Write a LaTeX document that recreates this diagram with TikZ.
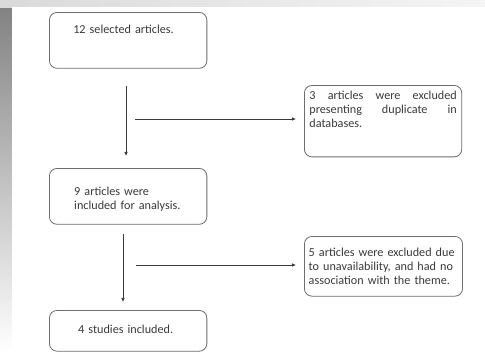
\documentclass[tikz,border=0pt]{standalone}
\usepackage{fontspec}
\setmainfont{Carlito}
\usepackage{tikz}
\usetikzlibrary{positioning, arrows.meta}
\usepackage{xcolor}
\definecolor{frame}{HTML}{6E6E6E}
\definecolor{ink}{HTML}{3A3A3A}
\definecolor{shade}{HTML}{DADADA}

\tikzset{
  stage/.style={draw=frame, line width=0.7pt, rounded corners=6.5pt, anchor=north west,
    font=\fontsize{10.4}{12}\selectfont, text=ink, inner ysep=0pt},
  flow/.style={draw=ink, line width=0.7pt, -{Latex[length=3.5pt, width=3.2pt]}}
}

\begin{document}
\begin{tikzpicture}[x=0.3mm, y=-0.3mm]
\useasboundingbox (0,0) rectangle (485,352);
% page edges
\fill[shade] (0,0) rectangle (12,352);
\shade[left color=shade, right color=gray!8] (0,0) rectangle (485,7);
\fill[white] (12,7) rectangle (485,352);

% main column
\node[stage, inner xsep=20.4pt, text width=93.6pt, align=left, text height=17.9pt, text depth=29.8pt] (sel) at (49,12)
{12 selected articles.};
\node[stage, inner xsep=21.2pt, text width=92pt, align=left, text height=23pt, text depth=24.7pt] (incl) at (49,168)
{9 articles were\\included for analysis.};
\node[stage, inner xsep=24.6pt, text width=85.2pt, align=left, text height=19.8pt, text depth=15pt] (final) at (49,310)
{4 studies included.};

% exclusions
\node[stage, inner xsep=4.25pt, text width=125.8pt, align=justify, text height=12.2pt, text depth=48.8pt] (dup) at (304,85)
{3 articles were excluded\linebreak presenting duplicate in\linebreak databases.};
\node[stage, inner xsep=3.7pt, text width=127.6pt, align=left, text height=17pt, text depth=34pt] (unav) at (304,236)
{5 articles were excluded due\\to unavailability, and had no\\association with the theme.};

% arrows
\coordinate (s1) at (126,86);
\coordinate (e1) at (126,156);
\coordinate (s2) at (135,119);
\coordinate (e2) at (296,119);
\coordinate (s3) at (123,234);
\coordinate (e3) at (123,302);
\coordinate (s4) at (136,265);
\coordinate (e4) at (296,265);
\draw[flow] (s1) -- (e1);
\draw[flow] (s2) -- (e2);
\draw[flow] (s3) -- (e3);
\draw[flow] (s4) -- (e4);
\end{tikzpicture}
\end{document}
